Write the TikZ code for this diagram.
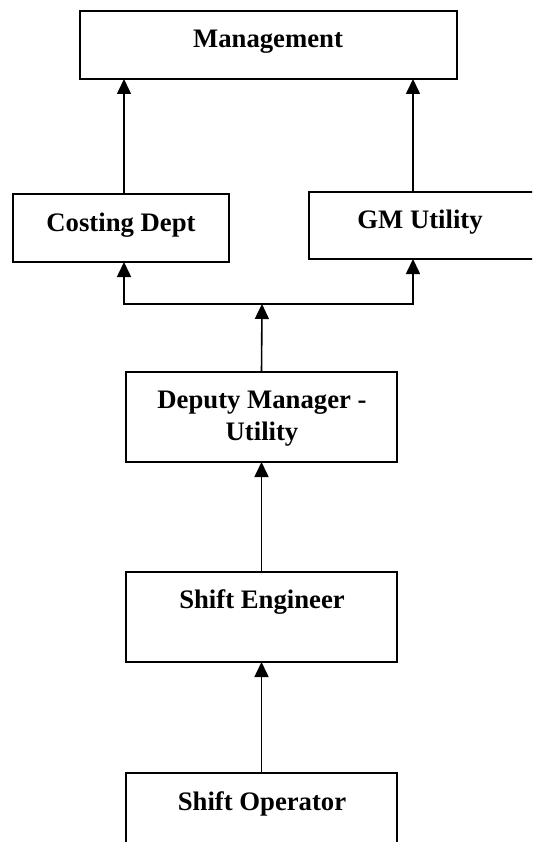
\documentclass[tikz,border=0pt]{standalone}
\usepackage{fontspec}
\setmainfont{Liberation Serif}
\usetikzlibrary{arrows.meta,calc}

\begin{document}
\begin{tikzpicture}[x=1pt, y=-1pt, line width=1.6pt,
  box/.style={draw, anchor=north west, inner sep=0pt, outer sep=0pt},
  lbl/.style={anchor=base, inner sep=0pt, align=center,
    font=\fontsize{26.7}{32}\selectfont\bfseries},
  up/.style={-{Triangle[width=14pt,length=15pt]}},
  upboth/.style={{Triangle[width=14pt,length=15pt]}-{Triangle[width=14pt,length=15pt]}}]
  \useasboundingbox (0,0) rectangle (532,842);
  \clip (0,0) rectangle (532,842);

  % boxes
  \node[box, minimum width=377pt, minimum height=68pt] (mgmt) at (80,11) {};
  \node[box, minimum width=216pt, minimum height=68pt] (costing) at (13,194) {};
  \node[box, minimum width=260pt, minimum height=67pt] (gm) at (309,192) {};
  \node[box, minimum width=271pt, minimum height=90pt] (deputy) at (126,372) {};
  \node[box, minimum width=271pt, minimum height=90pt] (engineer) at (126,572) {};
  \node[box, minimum width=271pt, minimum height=120pt] (operator) at (126,773) {};

  % texts (base = last line)
  \node[lbl] (mgmtlbl) at (268,48) {Management};
  \node[lbl] (costinglbl) at (121,232) {Costing Dept};
  \node[lbl] (gmlbl) at (420,229) {GM Utility};
  \node[lbl] (deputylbl) at (262,440) {Deputy Manager -\\Utility};
  \node[lbl] (engineerlbl) at (262,608) {Shift Engineer};
  \node[lbl] (operatorlbl) at (262,810) {Shift Operator};

  % split line under the two middle boxes
  \coordinate (L) at (124,304);
  \coordinate (R) at (413,304);
  \coordinate (J) at (262,304);

  \draw[up] (L |- costing.north) -- (L |- mgmt.south);
  \draw[up] (R |- gm.north) -- (R |- mgmt.south);
  \draw[upboth] (L |- costing.south) -- (L) -- (R) -- (R |- gm.south);
  \draw[up] (deputy.north) -- (J);
  \draw[up] (engineer.north) -- (deputy.south);
  \draw[up] (operator.north) -- (engineer.south);
\end{tikzpicture}
\end{document}
